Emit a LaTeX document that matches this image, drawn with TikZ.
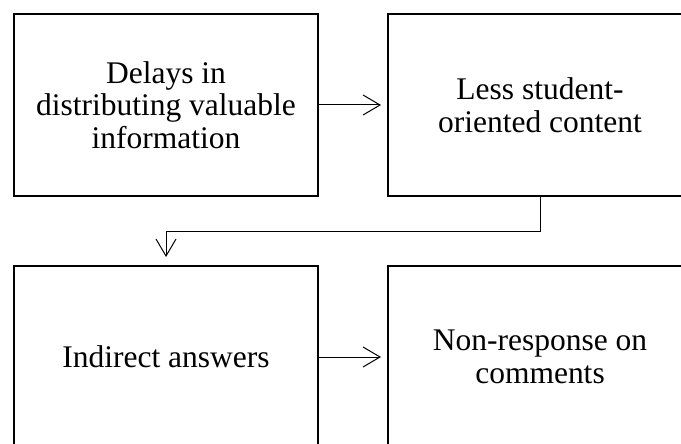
\documentclass[tikz,border=0pt]{standalone}
\usepackage{fontspec}
\setmainfont{Liberation Serif}
\usetikzlibrary{arrows.meta}
\begin{document}
\begin{tikzpicture}[x=1pt,y=-1pt,
  box/.style={draw=black,line width=2pt,minimum width=304pt,minimum height=182pt,
    inner sep=0pt,align=center,font=\fontsize{31.5}{32.7}\selectfont},
  link/.style={draw=black,line width=1pt,-{Straight Barb[length=17pt,width=20pt,line width=1pt]}}]
\useasboundingbox (0,0) rectangle (681,444);
\node[box] (tl) at (166,105) {Delays in\\distributing valuable\\information};
\node[box] (tr) at (540,105) {Less student-\\oriented content};
\node[box] (bl) at (166,357) {Indirect answers};
\node[box] (br) at (540,357) {Non-response on\\comments};
\draw[link,shorten >=6pt] (tl) -- (tr);
\draw[link,shorten >=6pt] (bl) -- (br);
\coordinate (bend) at (166,231);
\draw[link,shorten >=8pt] (tr.south) |- (bend) -- (bl.north);
\end{tikzpicture}
\end{document}
